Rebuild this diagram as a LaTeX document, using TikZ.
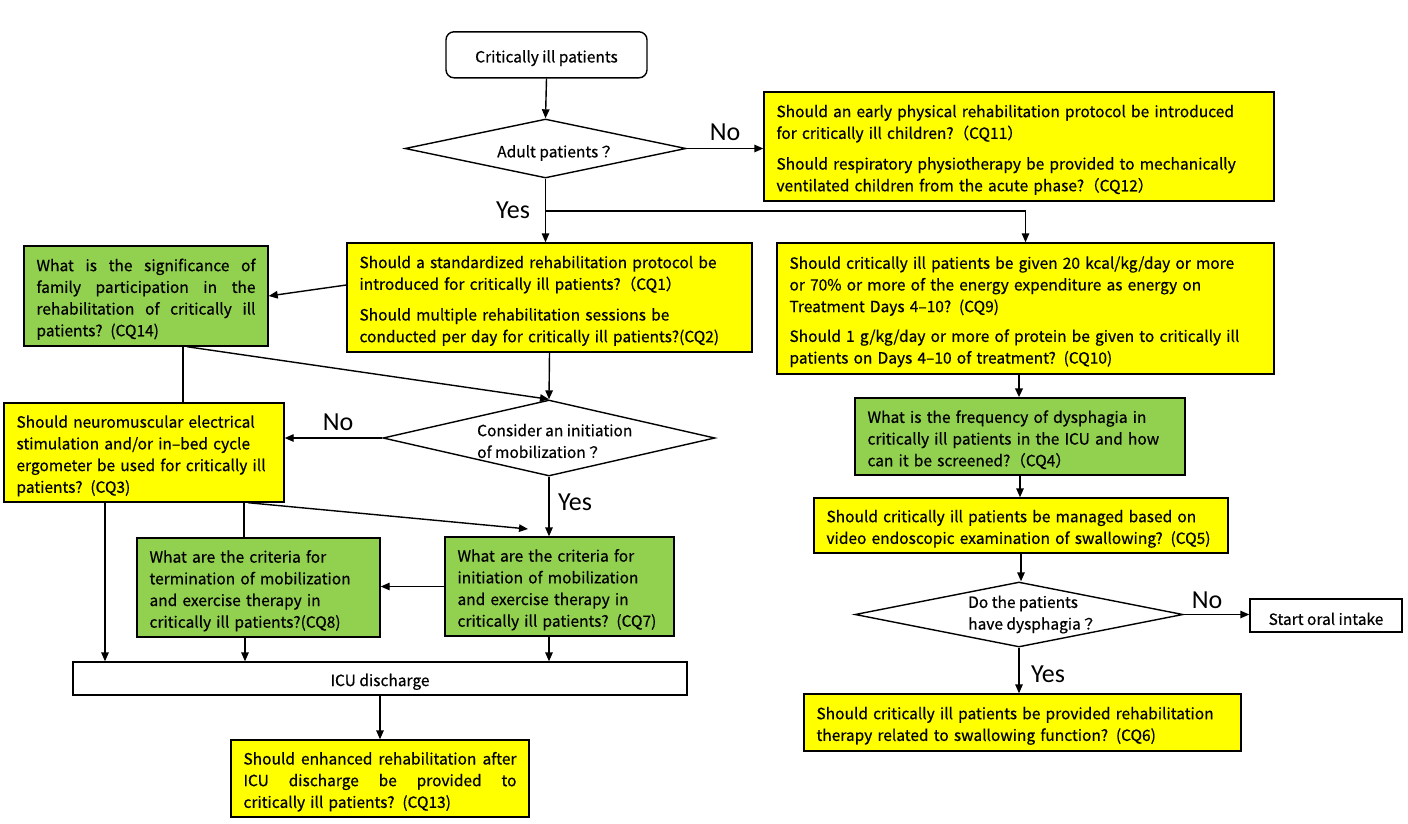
\documentclass[tikz,border=0pt]{standalone}
\usepackage{fontspec}
\setmainfont{Noto Sans CJK JP}[FakeBold=0.5]
\newfontfamily\labfont{Carlito}
\usetikzlibrary{shapes.geometric,arrows.meta,calc}
\definecolor{qyellow}{HTML}{FFFF00}
\definecolor{qgreen}{HTML}{92D050}
\newcommand{\tline}[1]{\mbox{#1}}
\newcommand{\jline}[2]{\makebox[#1]{#2}}
\newcommand{\dropstrut}{\rule{0pt}{19pt}}
\begin{document}
\begin{tikzpicture}[x=1pt,y=-1pt,
  font=\fontsize{15.5}{21.7}\selectfont,
  box/.style={draw, line width=1.4pt, inner xsep=12.5pt, inner ysep=0pt, align=left, anchor=center,
              execute at begin node=\dropstrut},
  ybox/.style={box, fill=qyellow},
  gbox/.style={box, fill=qgreen},
  wbox/.style={draw, line width=1.4pt, inner sep=0pt, fill=white, align=center,
               execute at begin node=\dropstrut},
  arr/.style={line width=1.4pt, -{Triangle[length=9pt,width=7.5pt]}},
  thin/.style={line width=1.4pt},
  lab/.style={font=\labfont\fontsize{26}{30}\selectfont, inner sep=0pt},
  dia/.style={draw, diamond, line width=1.4pt, inner sep=0pt, fill=white},
  dtext/.style={inner sep=0pt, align=left, anchor=west}]

\fill[white] (0,0) rectangle (1408,823);
\useasboundingbox (0,0) rectangle (1408,823);

% start
\node[wbox, rounded corners=8pt, minimum width=201pt, minimum height=46pt] (start) at (546.5,54.8) {Critically ill patients};

% diamonds
\node[dia, minimum width=281pt, minimum height=59pt] (d1) at (545.5,148.5) {};
\node[dtext] (d1t) at (497,153) {Adult patients？};
\node[dia, minimum width=332pt, minimum height=76pt] (d2) at (549,438) {};
\node[dtext] (d2t) at (477,441) {Consider an initiation\\of mobilization？};
\node[dia, minimum width=328pt, minimum height=65pt] (d3) at (1019,614.5) {};
\node[dtext] (d3t) at (968,614.5) {Do the patients\\have dysphagia？};

% boxes
\node[ybox, text width=485pt, minimum height=109pt] (cq11) at (1019,146.5)
 {\tline{Should an early physical rehabilitation protocol be introduced}\\
  \tline{for critically ill children?（CQ11）}\\[9pt]
  \tline{Should respiratory physiotherapy be provided to mechanically}\\
  \tline{ventilated children from the acute phase?（CQ12）}};

\node[ybox, text width=380pt, minimum height=109pt] (cq1) at (549.5,297.5)
 {\tline{Should a standardized rehabilitation protocol be}\\
  \tline{introduced for critically ill patients?（CQ1）}\\[9pt]
  \tline{Should multiple rehabilitation sessions be}\\
  \tline{conducted per day for critically ill patients?(CQ2)}};

\node[ybox, text width=472pt, minimum height=131pt] (cq9) at (1025.5,308.5)
 {\tline{Should critically ill patients be given 20 kcal/kg/day or more}\\
  \tline{or 70\% or more of the energy expenditure as energy on}\\
  \tline{Treatment Days 4–10? (CQ9)}\\[8pt]
  \tline{Should 1 g/kg/day or more of protein be given to critically ill}\\
  \tline{patients on Days 4–10 of treatment? (CQ10)}};

\node[gbox, text width=219pt, minimum height=100pt] (cq14) at (146,296)
 {\jline{219pt}{What\hfill is\hfill the\hfill significance\hfill of}\\
  \jline{219pt}{family\hfill participation\hfill in\hfill the}\\
  \jline{219pt}{rehabilitation\hfill of\hfill critically\hfill ill}\\
  \tline{patients? (CQ14)}};

\node[ybox, text width=255pt, minimum height=99pt] (cq3) at (144,452.5)
 {\tline{Should neuromuscular electrical}\\
  \tline{stimulation and/or in–bed cycle}\\
  \tline{ergometer be used for critically ill}\\
  \tline{patients? (CQ3)}};

\node[gbox, text width=218pt, minimum height=99pt] (cq8) at (258.5,587.5)
 {\tline{What are the criteria for}\\
  \tline{termination of mobilization}\\
  \tline{and exercise therapy in}\\
  \tline{critically ill patients?(CQ8)}};

\node[gbox, text width=204pt, minimum height=99pt] (cq7) at (559.5,586.5)
 {\tline{What are the criteria for}\\
  \tline{initiation of mobilization}\\
  \tline{and exercise therapy in}\\
  \tline{critically ill patients? (CQ7)}};

\node[wbox, minimum width=614pt, minimum height=33pt] (icu) at (380,678.5) {ICU discharge};

\node[ybox, text width=273pt, minimum height=77pt] (cq13) at (380,778.5)
 {\jline{273pt}{Should\hfill enhanced\hfill rehabilitation\hfill after}\\
  \jline{273pt}{ICU\hfill discharge\hfill be\hfill provided\hfill to}\\
  \tline{critically ill patients? (CQ13)}};

\node[gbox, text width=305pt, minimum height=77pt] (cq4) at (1020,436.5)
 {\tline{What is the frequency of dysphagia in}\\
  \tline{critically ill patients in the ICU and how}\\
  \tline{can it be screened?（CQ4）}};

\node[ybox, text width=389pt, minimum height=55pt] (cq5) at (1021,525.5)
 {\tline{Should critically ill patients be managed based on}\\
  \tline{video endoscopic examination of swallowing? (CQ5)}};

\node[ybox, text width=412pt, minimum height=57pt] (cq6) at (1022.5,722.5)
 {\tline{Should critically ill patients be provided rehabilitation}\\
  \tline{therapy related to swallowing function? (CQ6)}};

\node[wbox, minimum width=152pt, minimum height=33pt] (oral) at (1326,615.5) {Start oral intake};

% labels
\node[lab] (no1) at (725,132) {No};
\node[lab] (yes1) at (513,210) {Yes};
\node[lab] (no2) at (338,422) {No};
\node[lab] (yes2) at (575,502) {Yes};
\node[lab] (no3) at (1207,600) {No};
\node[lab] (yes3) at (1048,674) {Yes};

% connectors
\coordinate (yb) at (546,211);
\coordinate (t3) at (528,529);
\draw[arr] (start.south) -- (d1.north);
\draw[arr] (d1.east) -- (d1.east -| cq11.west);
\draw[arr] (d1.south) -- (d1.south |- cq1.north);
\draw[arr] (yb) -| (cq9.north);
\draw[arr] ([yshift=12.5pt]cq1.west) -- (cq14.east);
\draw[thin] ([xshift=37pt]cq14.south) -- ([xshift=37pt]cq14.south |- cq3.north);
\draw[arr] ([xshift=41pt]cq14.south) -- (d2.north);
\draw[arr] (cq1.south) -- (d2.north);
\draw[arr] (d2.west) -- (d2.west -| cq3.east);
\draw[arr] (d2.south) -- (d2.south |- cq7.north);
\draw[arr] ([xshift=-39pt]cq3.south) -- ([xshift=-39pt]cq3.south |- icu.north);
\draw[thin] ([xshift=100pt]cq3.south) -- ([xshift=100pt]cq3.south |- cq8.north);
\draw[arr] ([xshift=104pt]cq3.south) -- (t3);
\draw[arr] (cq7.west) -- (cq7.west -| cq8.east);
\draw[arr] ([xshift=-13.5pt]cq8.south) -- ([xshift=-13.5pt]cq8.south |- icu.north);
\draw[arr] ([xshift=-10.5pt]cq7.south) -- ([xshift=-10.5pt]cq7.south |- icu.north);
\draw[arr] (icu.south) -- (cq13.north);
\draw[arr, line width=2.2pt] ([xshift=-6.5pt]cq9.south) -- ([xshift=-6.5pt]cq9.south |- cq4.north);
\draw[arr] (cq4.south) -- (cq4.south |- cq5.north);
\draw[arr] (cq5.south) -- (cq5.south |- d3.north);
\draw[arr] (d3.east) -- (d3.east -| oral.west);
\draw[arr] (d3.south) -- (d3.south |- cq6.north);
\end{tikzpicture}
\end{document}
